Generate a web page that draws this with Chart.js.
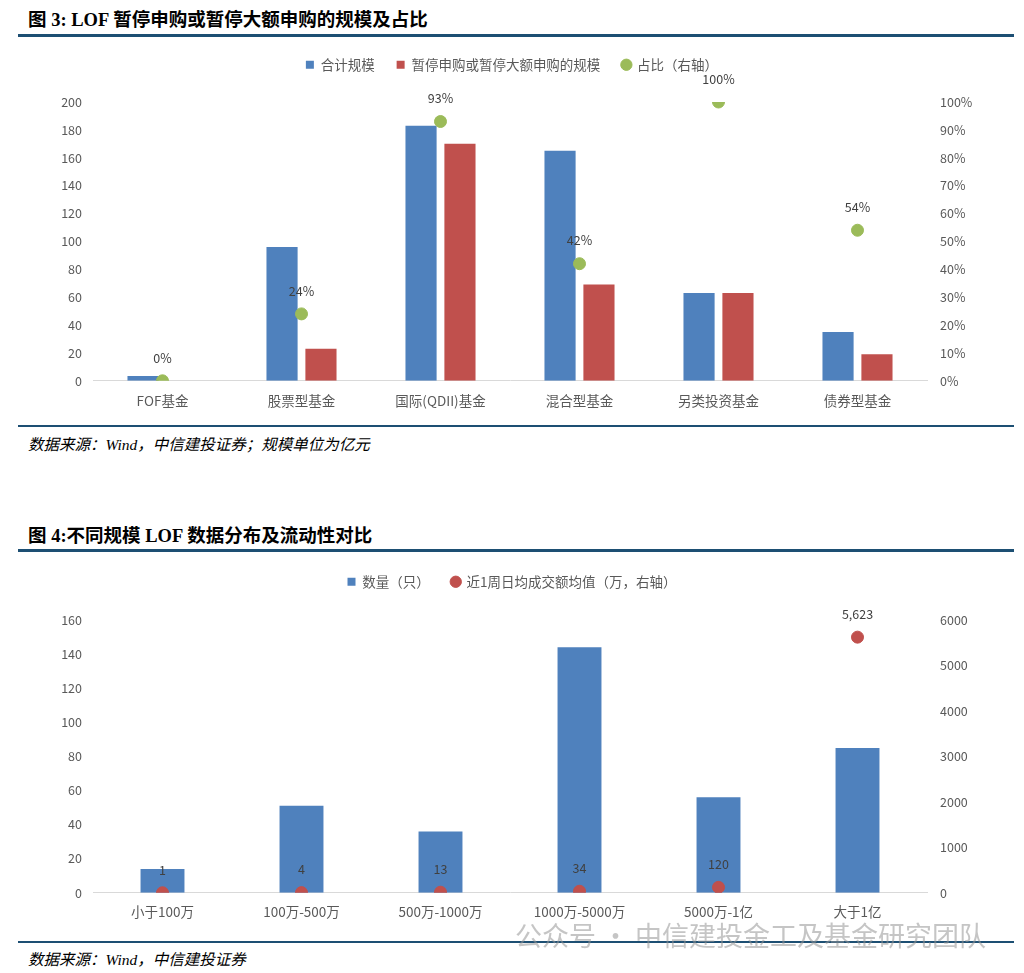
<!DOCTYPE html>
<html>
<head>
<meta charset="utf-8">
<script src="https://cdn.jsdelivr.net/npm/chart.js@4.4.1/dist/chart.umd.min.js"></script>
<style>
  body { margin: 0; background: #fff; width: 1024px; height: 973px; position: relative; overflow: hidden; }
  .title { position: absolute; left: 28px; font: bold 18.5px "Liberation Serif", "Noto Sans CJK SC", serif; color: #000; }
  .rule { position: absolute; left: 18px; width: 996px; background: #1d4f73; }
  .source { position: absolute; left: 28px; font: italic 15.5px "Liberation Serif", "Noto Sans CJK SC", serif; color: #000; }
  .box { position: absolute; left: 0; width: 1024px; }
  .mark { position: absolute; left: 515px; top: 915px; font: 27px "Noto Sans CJK SC", sans-serif; color: rgba(150,150,150,0.55); }
</style>
</head>
<body>
<div class="title" style="top:5px">图 3: LOF 暂停申购或暂停大额申购的规模及占比</div>
<div class="rule" style="top:34px;height:3px"></div>
<div class="box" style="top:30px;height:391px"><canvas id="fund-chart"></canvas></div>
<div class="rule" style="top:425px;height:2px"></div>
<div class="source" style="top:432px">数据来源：Wind，中信建投证券；规模单位为亿元</div>

<div class="title" style="top:521px">图 4:不同规模 LOF 数据分布及流动性对比</div>
<div class="rule" style="top:549px;height:3px"></div>
<div class="box" style="top:547px;height:392px"><canvas id="size-chart"></canvas></div>
<div class="rule" style="top:941px;height:2px"></div>
<div class="source" style="top:947px">数据来源：Wind，中信建投证券</div>
<div class="mark">公众号 · 中信建投金工及基金研究团队</div>

<script>
// chart 3 data
const fundTypes = ['FOF基金', '股票型基金', '国际(QDII)基金', '混合型基金', '另类投资基金', '债券型基金'];
const totalScale = [3.5, 96, 183, 165, 63, 35];
const suspendScale = [0, 23, 170, 69, 63, 19];
const suspendRatio = [0, 24, 93, 42, 100, 54];

// chart 4 data
const sizeBuckets = ['小于100万', '100万-500万', '500万-1000万', '1000万-5000万', '5000万-1亿', '大于1亿'];
const fundCount = [14, 51, 36, 144, 56, 85];
const avgTurnover = [1, 4, 13, 34, 120, 5623];

Chart.defaults.font.family = '"Noto Sans CJK SC", sans-serif';
Chart.defaults.color = '#595959';

// fixed legend height so the plot area lands where it should
const legendHeight = {
  id: 'legendHeight',
  beforeLayout(chart) {
    if (chart.legend && !chart.legend._patched) {
      const fit = chart.legend.fit;
      chart.legend.fit = function () {
        fit.call(this);
        this.height = chart.config.options.legendH;
      };
      chart.legend._patched = true;
    }
  }
};

// value labels over the dots
const pointLabels = {
  id: 'pointLabels',
  afterDatasetsDraw(chart) {
    const ctx = chart.ctx;
    chart.data.datasets.forEach((ds, i) => {
      if (!ds.labelFormat) return;
      chart.getDatasetMeta(i).data.forEach((pt, j) => {
        ctx.save();
        ctx.font = '12.5px "Noto Sans CJK SC", sans-serif';
        ctx.fillStyle = '#404040';
        ctx.textAlign = 'center';
        ctx.textBaseline = 'middle';
        ctx.fillText(ds.labelFormat(ds.data[j]), pt.x, pt.y - 23);
        ctx.restore();
      });
    });
  }
};

function legendOpts() {
  return {
    position: 'top',
    labels: {
      usePointStyle: true,
      boxWidth: 8,
      boxHeight: 8,
      padding: 22,
      color: '#595959',
      font: { size: 13.5 },
      sort: (a, b) => a.datasetIndex - b.datasetIndex
    }
  };
}

new Chart(document.getElementById('fund-chart'), {
  type: 'bar',
  data: {
    labels: fundTypes,
    datasets: [
      {
        label: '合计规模',
        data: totalScale,
        backgroundColor: '#4F81BD',
        pointStyle: 'rect',
        order: 1,
        categoryPercentage: 0.56,
        barPercentage: 0.8
      },
      {
        label: '暂停申购或暂停大额申购的规模',
        data: suspendScale,
        backgroundColor: '#C0504D',
        pointStyle: 'rect',
        order: 1,
        categoryPercentage: 0.56,
        barPercentage: 0.8
      },
      {
        type: 'line',
        label: '占比（右轴）',
        data: suspendRatio,
        yAxisID: 'y1',
        showLine: false,
        pointStyle: 'circle',
        pointRadius: 6,
        pointBackgroundColor: '#9BBB59',
        pointBorderColor: '#9BBB59',
        backgroundColor: '#9BBB59',
        borderColor: '#9BBB59',
        order: 0,
        labelFormat: v => v + '%'
      }
    ]
  },
  options: {
    responsive: true,
    maintainAspectRatio: false,
    animation: false,
    legendH: 66,
    layout: { padding: { top: 6, bottom: 0 } },
    scales: {
      x: {
        grid: { display: false, drawTicks: false },
        border: { color: '#d9d9d9' },
        ticks: { color: '#595959', font: { size: 13.5 }, padding: 12 }
      },
      y: {
        min: 0,
        max: 200,
        ticks: { stepSize: 20, padding: 11, font: { size: 12.5 } },
        grid: { display: false, drawTicks: false },
        border: { display: false },
        afterFit(s) { s.width = 93; }
      },
      y1: {
        position: 'right',
        min: 0,
        max: 100,
        ticks: { stepSize: 10, padding: 13, font: { size: 12.5 }, callback: v => v + '%' },
        grid: { display: false, drawTicks: false },
        border: { display: false },
        afterFit(s) { s.width = 97; }
      }
    },
    plugins: {
      legend: legendOpts(),
      tooltip: { enabled: false }
    }
  },
  plugins: [legendHeight, pointLabels]
});

new Chart(document.getElementById('size-chart'), {
  type: 'bar',
  data: {
    labels: sizeBuckets,
    datasets: [
      {
        label: '数量（只）',
        data: fundCount,
        backgroundColor: '#4F81BD',
        pointStyle: 'rect',
        order: 1,
        categoryPercentage: 0.4,
        barPercentage: 0.79
      },
      {
        type: 'line',
        label: '近1周日均成交额均值（万，右轴）',
        data: avgTurnover,
        yAxisID: 'y1',
        showLine: false,
        pointStyle: 'circle',
        pointRadius: 6,
        pointBackgroundColor: '#C0504D',
        pointBorderColor: '#C0504D',
        backgroundColor: '#C0504D',
        borderColor: '#C0504D',
        order: 0,
        labelFormat: v => v.toLocaleString('en-US')
      }
    ]
  },
  options: {
    responsive: true,
    maintainAspectRatio: false,
    animation: false,
    legendH: 67,
    layout: { padding: { top: 6, bottom: 8 } },
    scales: {
      x: {
        grid: { display: false, drawTicks: false },
        border: { color: '#d9d9d9' },
        ticks: { color: '#595959', font: { size: 13.5 }, padding: 11 }
      },
      y: {
        min: 0,
        max: 160,
        ticks: { stepSize: 20, padding: 11, font: { size: 12.5 } },
        grid: { display: false, drawTicks: false },
        border: { display: false },
        afterFit(s) { s.width = 93; }
      },
      y1: {
        position: 'right',
        min: 0,
        max: 6000,
        ticks: { stepSize: 1000, padding: 13, font: { size: 12.5 }, callback: v => v },
        grid: { display: false, drawTicks: false },
        border: { display: false },
        afterFit(s) { s.width = 97; }
      }
    },
    plugins: {
      legend: legendOpts(),
      tooltip: { enabled: false }
    }
  },
  plugins: [legendHeight, pointLabels]
});
</script>
</body>
</html>
